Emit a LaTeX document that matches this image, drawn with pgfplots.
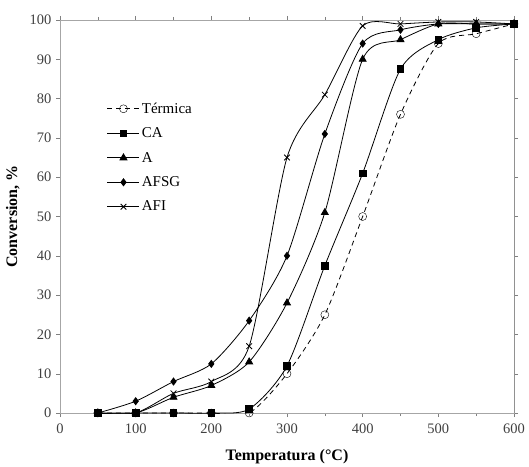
\documentclass[border=0pt]{standalone}
\usepackage{fontspec}
\setmainfont{Liberation Serif}
\usepackage{pgfplots}
\pgfplotsset{compat=1.18}

\begin{document}
\begin{tikzpicture}
\begin{axis}[
  scale only axis,
  width=454pt, height=393pt,
  xmin=0, xmax=600, ymin=0, ymax=100,
  xtick={0,100,...,600}, minor xtick={50,150,...,550},
  ytick={0,10,...,100},
  tick align=outside,
  major tick length=4pt, minor tick length=3pt,
  tick style={gray, thin},
  axis line style={gray!70},
  xlabel={\textbf{Temperatura (°C)}},
  ylabel={\textbf{Conversion, \%}},
  xlabel style={at={(axis description cs:0.5,0)}, anchor=center, yshift=-44pt},
  ylabel style={at={(axis description cs:-0.104,0.5)}, anchor=center},
  xticklabel style={yshift=-3pt},
  yticklabel style={xshift=-1pt},
  tick label style={font=\fontsize{14.5}{15}\selectfont, text=black!75},
  label style={font=\fontsize{16}{17}\selectfont},
  /pgf/number format/assume math mode=true,
  legend style={draw=none, fill=none, at={(axis cs:58,80)}, anchor=north west,
    font=\fontsize{15}{16}\selectfont, row sep=9pt},
  legend cell align=left,
  legend image code/.code={\draw[mark repeat=2,mark phase=2,#1]
    plot coordinates {(0pt,0pt) (16pt,0pt) (32pt,0pt)};},
  every axis plot/.append style={black, thick, smooth, tension=0.45},
  clip=true,
]
\addplot[dash pattern=on 5pt off 4pt, mark=o, mark size=4pt, mark options={solid, thin, fill=white}] coordinates {
  (50,0) (100,0) (150,0) (200,0) (250,0) (300,10) (350,25) (400,50) (450,76) (500,94) (550,96.5) (600,99)
};
\addlegendentry{Térmica}
\addplot[mark=square*, mark size=3.3pt] coordinates {
  (50,0) (100,0) (150,0) (200,0) (250,1) (300,12) (350,37.5) (400,61) (450,87.5) (500,95) (550,98) (600,99)
};
\addlegendentry{CA}
\addplot[mark=triangle*, mark size=4pt] coordinates {
  (50,0) (100,0) (150,4) (200,7) (250,13) (300,28) (350,51) (400,90) (450,95) (500,99) (550,99) (600,99)
};
\addlegendentry{A}
\addplot[mark=diamond*, mark size=3.5pt] coordinates {
  (50,0) (100,3) (150,8) (200,12.5) (250,23.5) (300,40) (350,71) (400,94) (450,97.5) (500,99) (550,99) (600,99)
};
\addlegendentry{AFSG}
\addplot[mark=x, mark size=4pt, mark options={thick}] coordinates {
  (50,0) (100,0) (150,5) (200,8) (250,17) (300,65) (350,81) (400,98.5) (450,99) (500,99.5) (550,99.5) (600,99)
};
\addlegendentry{AFI}
\draw[black, thick] (axis cs:600,0) -- (axis cs:600,100);
\end{axis}
\pgfresetboundingbox
\useasboundingbox (-60pt,-53pt) rectangle (469pt,413pt);
\end{tikzpicture}
\end{document}
